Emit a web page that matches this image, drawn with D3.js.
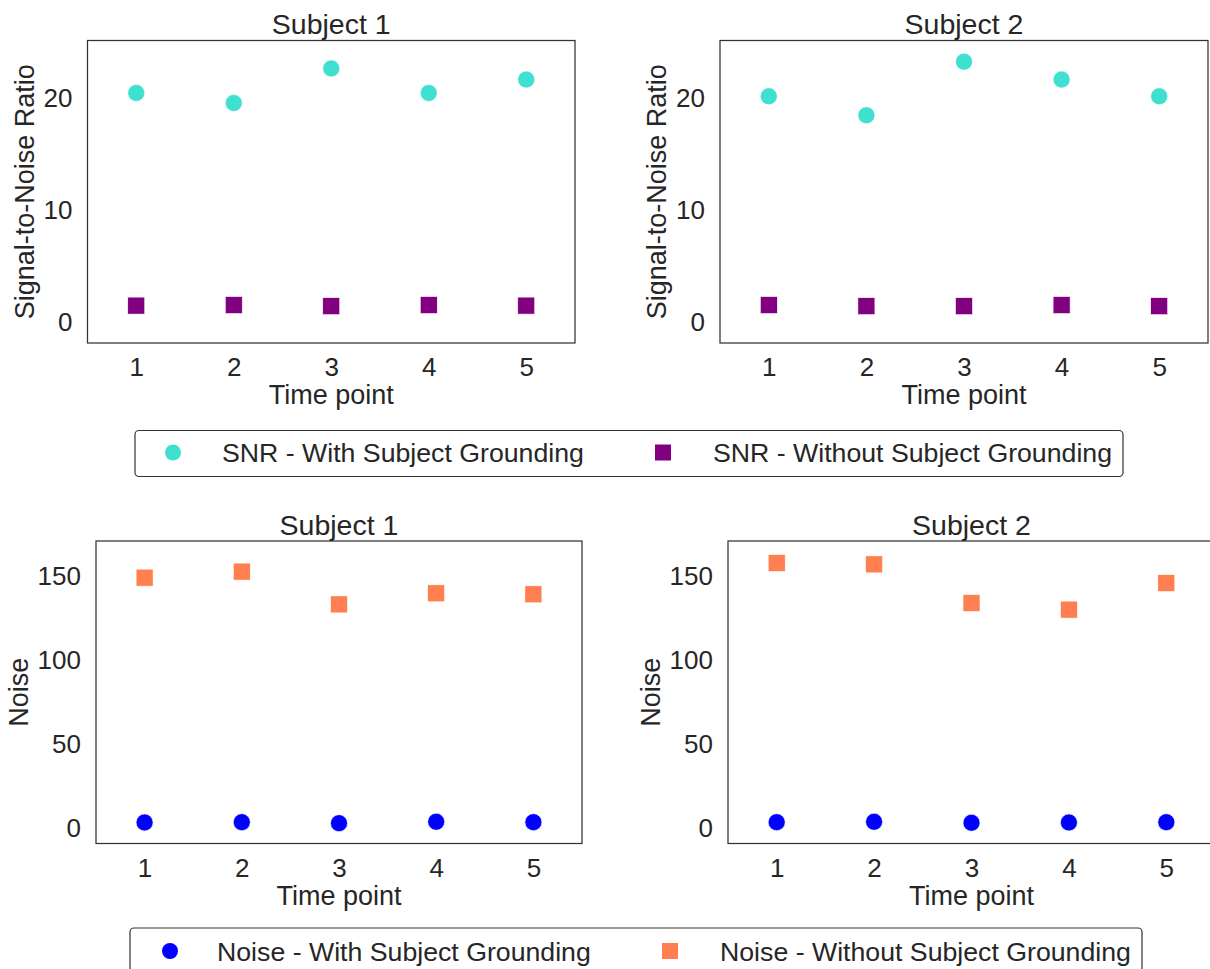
<!DOCTYPE html>
<html>
<head>
<meta charset="utf-8">
<script src="https://cdn.jsdelivr.net/npm/d3@7"></script>
<style>
  body { margin: 0; background: #fff; }
  svg { display: block; font-family: "Liberation Sans", Arial, sans-serif; }
</style>
</head>
<body>
<div id="chart"></div>
<script>
// Data
const timePoints = [1, 2, 3, 4, 5];

const snrWithS1 = [20.5, 19.6, 22.7, 20.5, 21.7];
const snrWithoutS1 = [1.45, 1.5, 1.4, 1.5, 1.45];
const snrWithS2 = [20.2, 18.5, 23.3, 21.7, 20.2];
const snrWithoutS2 = [1.5, 1.4, 1.4, 1.5, 1.4];

const noiseWithS1 = [3.6, 3.8, 3.2, 4.0, 3.8];
const noiseWithoutS1 = [149.2, 152.8, 133.3, 139.9, 139.3];
const noiseWithS2 = [3.8, 4.0, 3.4, 3.6, 3.8];
const noiseWithoutS2 = [157.9, 157.1, 134.1, 130.2, 146.0];

const snrTicks = [0, 10, 20];
const noiseTicks = [0, 50, 100, 150];

const snrLegend = ['SNR - With Subject Grounding', 'SNR - Without Subject Grounding'];
const noiseLegend = ['Noise - With Subject Grounding', 'Noise - Without Subject Grounding'];

const textColor = '#262626';
const spineColor = '#333';

const svg = d3.select('#chart').append('svg')
    .attr('width', 1210)
    .attr('height', 969);

// Panel layout
const panels = [
    { title: 'Subject 1', ylabel: 'Signal-to-Noise Ratio', box: [87.5, 40.5, 575, 343],
      yDomain: [-1.9, 25.2], ticks: snrTicks, labelOffset: 54,
      circle: snrWithS1, square: snrWithoutS1, cColor: '#40E0D0', sColor: '#800080' },
    { title: 'Subject 2', ylabel: 'Signal-to-Noise Ratio', box: [720, 40.5, 1208, 343],
      yDomain: [-1.9, 25.2], ticks: snrTicks, labelOffset: 54,
      circle: snrWithS2, square: snrWithoutS2, cColor: '#40E0D0', sColor: '#800080' },
    { title: 'Subject 1', ylabel: 'Noise', box: [96, 541, 582, 843.5],
      yDomain: [-8.9, 171], ticks: noiseTicks, labelOffset: 68,
      circle: noiseWithS1, square: noiseWithoutS1, cColor: '#0000FF', sColor: '#FF7F50' },
    { title: 'Subject 2', ylabel: 'Noise', box: [728, 541, 1215, 843.5],
      yDomain: [-8.9, 171], ticks: noiseTicks, labelOffset: 68,
      circle: noiseWithS2, square: noiseWithoutS2, cColor: '#0000FF', sColor: '#FF7F50' }
];

panels.forEach(p => {
    const [x0, y0, x1, y1] = p.box;

    const x = d3.scaleLinear().domain([0.5, 5.5]).range([x0, x1]);
    const y = d3.scaleLinear().domain(p.yDomain).range([y1, y0]);

    const g = svg.append('g');

    // Axes (no tick marks, seaborn white style)
    const xAxis = g.append('g')
        .attr('transform', `translate(0,${y1})`)
        .call(d3.axisBottom(x).tickValues(timePoints).tickSize(0).tickPadding(15).tickFormat(d3.format('d')));
    const yAxis = g.append('g')
        .attr('transform', `translate(${x0},0)`)
        .call(d3.axisLeft(y).tickValues(p.ticks).tickSize(0).tickPadding(15));

    [xAxis, yAxis].forEach(a => {
        a.select('.domain').remove();
        a.selectAll('text')
            .attr('fill', textColor)
            .attr('font-size', '26px')
            .attr('font-family', '"Liberation Sans", Arial, sans-serif');
    });

    // Frame
    g.append('rect')
        .attr('x', x0)
        .attr('y', y0)
        .attr('width', x1 - x0)
        .attr('height', y1 - y0)
        .attr('fill', 'none')
        .attr('stroke', spineColor)
        .attr('stroke-width', 1.25);

    // Points
    g.selectAll('.sq')
        .data(timePoints)
        .enter()
        .append('rect')
        .attr('x', (d, i) => x(d) - 8.5)
        .attr('y', (d, i) => y(p.square[i]) - 8.5)
        .attr('width', 17)
        .attr('height', 17)
        .attr('fill', p.sColor)
        .attr('stroke', '#fff')
        .attr('stroke-width', 0.6);

    g.selectAll('.dot')
        .data(timePoints)
        .enter()
        .append('circle')
        .attr('cx', d => x(d))
        .attr('cy', (d, i) => y(p.circle[i]))
        .attr('r', 8.5)
        .attr('fill', p.cColor)
        .attr('stroke', '#fff')
        .attr('stroke-width', 0.6);

    // Title
    g.append('text')
        .attr('x', (x0 + x1) / 2)
        .attr('y', y0 - 6.5)
        .attr('text-anchor', 'middle')
        .attr('fill', textColor)
        .attr('font-size', '28.5px')
        .text(p.title);

    // X label
    g.append('text')
        .attr('x', (x0 + x1) / 2)
        .attr('y', y1 + 61)
        .attr('text-anchor', 'middle')
        .attr('fill', textColor)
        .attr('font-size', '27px')
        .text('Time point');

    // Y label
    g.append('text')
        .attr('transform', `translate(${x0 - p.labelOffset},${(y0 + y1) / 2}) rotate(-90)`)
        .attr('text-anchor', 'middle')
        .attr('fill', textColor)
        .attr('font-size', '27px')
        .text(p.ylabel);
});

// Legends
function drawLegend(box, labels, colors, markerX, textX) {
    const [lx0, ly0, lx1, ly1] = box;
    const cy = (ly0 + ly1) / 2 - 1;
    const lg = svg.append('g');

    lg.append('rect')
        .attr('x', lx0)
        .attr('y', ly0)
        .attr('width', lx1 - lx0)
        .attr('height', ly1 - ly0)
        .attr('rx', 4)
        .attr('fill', '#fff')
        .attr('stroke', '#333')
        .attr('stroke-width', 1.2);

    lg.append('circle')
        .attr('cx', markerX[0])
        .attr('cy', cy)
        .attr('r', 8)
        .attr('fill', colors[0]);

    lg.append('rect')
        .attr('x', markerX[1] - 8)
        .attr('y', cy - 8)
        .attr('width', 16)
        .attr('height', 16)
        .attr('fill', colors[1]);

    labels.forEach((t, i) => {
        lg.append('text')
            .attr('x', textX[i])
            .attr('y', cy + 9.5)
            .attr('fill', textColor)
            .attr('font-size', '26.7px')
            .text(t);
    });
}

drawLegend([135, 430.5, 1123, 476.5], snrLegend, ['#40E0D0', '#800080'], [173, 663], [222, 713]);
drawLegend([130, 928, 1142, 976], noiseLegend, ['#0000FF', '#FF7F50'], [170, 670], [217, 720]);
</script>
</body>
</html>
